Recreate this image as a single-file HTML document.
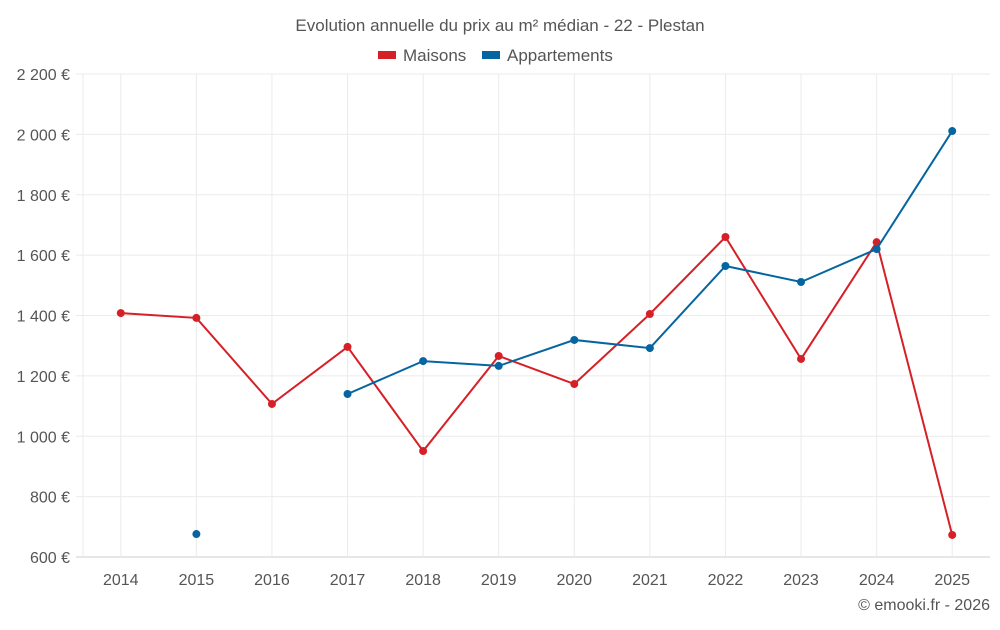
<!DOCTYPE html>
<html><head><meta charset="utf-8"><style>
body{margin:0;background:#fff;font-family:"Liberation Sans",sans-serif}
svg text{font-family:"Liberation Sans",sans-serif;fill:#555}
</style></head><body>
<svg id="c" width="1000" height="625">
<text x="500" y="31" text-anchor="middle" font-size="17">Evolution annuelle du prix au m² médian - 22 - Plestan</text>
<g>
<rect x="378" y="51" width="18" height="8" fill="#d62027"/>
<text x="403" y="61" font-size="17">Maisons</text>
<rect x="482" y="51" width="18" height="8" fill="#0565a0"/>
<text x="507" y="61" font-size="17">Appartements</text>
</g>
<g id="grid"></g><g id="axes"></g><g id="series"></g>
<text x="990" y="610" text-anchor="end" font-size="16">© emooki.fr - 2026</text>
</svg>
<script>
const categories=["2014","2015","2016","2017","2018","2019","2020","2021","2022","2023","2024","2025"];
const maisons=[1408,1392,1107,1296,951,1266,1173,1405,1660,1256,1643,673];
const appartements=[null,676,null,1140,1249,1233,1319,1292,1564,1511,1620,2011];
const yTicks=[600,800,1000,1200,1400,1600,1800,2000,2200];
const yLabels=["600 €","800 €","1 000 €","1 200 €","1 400 €","1 600 €","1 800 €","2 000 €","2 200 €"];
const L=83,R=990,T=74,B=557,ymin=600,ymax=2200;
const step=(R-L)/categories.length;
const xS=i=>L+step*(i+0.5);
const yS=v=>B-(v-ymin)/(ymax-ymin)*(B-T);
const NS="http://www.w3.org/2000/svg";
function mk(t,a,p){const e=document.createElementNS(NS,t);for(const k in a)e.setAttribute(k,a[k]);p.appendChild(e);return e;}
const g=document.getElementById('grid'),ax=document.getElementById('axes'),s=document.getElementById('series');
yTicks.forEach((v,i)=>{
 const l=mk('line',{x1:76,x2:R,y1:yS(v),y2:yS(v),stroke:i==0?'#ccc':'#ebebeb'},g);
 
 
 const t=mk('text',{x:70,y:yS(v)+6,'text-anchor':'end','font-size':16},ax);t.textContent=yLabels[i];
 
 
});
const l0=mk('line',{x1:L,x2:L,y1:T,y2:B,stroke:'#ebebeb'},g);


categories.forEach((c,i)=>{
 const l=mk('line',{x1:xS(i),x2:xS(i),y1:T,y2:B,stroke:'#ebebeb'},g);
 
 
 const t=mk('text',{x:xS(i),y:585,'text-anchor':'middle','font-size':16},ax);t.textContent=c;
 
 
});
function draw(data,color,name){
 let d='',pen=false;
 data.forEach((v,i)=>{if(v==null){pen=false;return;}d+=(pen?'L':'M')+xS(i)+' '+yS(v)+' ';pen=true;});
 const p=mk('path',{d:d,fill:'none',stroke:color,'stroke-width':2},s);
 
 
 data.forEach((v,i)=>{if(v==null)return;
  const c=mk('circle',{cx:xS(i),cy:yS(v),r:4,fill:color},s);
  
  
 });
}
draw(maisons,'#d62027','maisons');
draw(appartements,'#0565a0','appartements');
</script>
</body></html>
